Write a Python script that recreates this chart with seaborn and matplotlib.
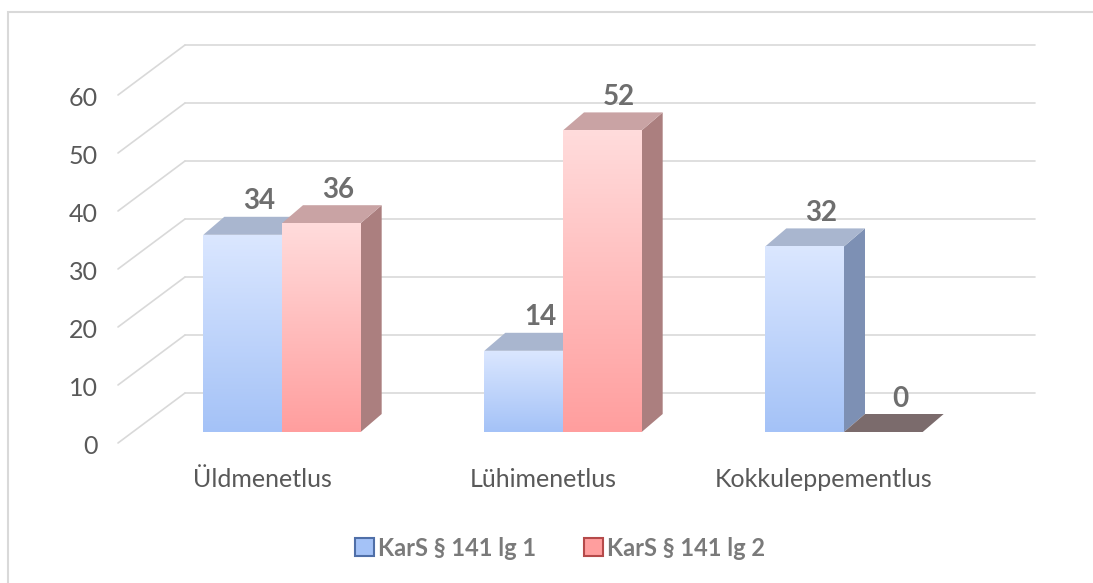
import matplotlib
matplotlib.use("Agg")
import matplotlib.pyplot as plt
from matplotlib.patches import Polygon, Patch, Rectangle
from matplotlib.transforms import ScaledTranslation
from matplotlib.colors import LinearSegmentedColormap
import numpy as np
import pandas as pd
import seaborn as sns

## donnees
categories = ["Üldmenetlus", "Lühimenetlus", "Kokkuleppementlus"]
series = ["KarS § 141 lg 1", "KarS § 141 lg 2"]
lg1 = [34, 14, 32]
lg2 = [36, 52, 0]
yticks = [0, 10, 20, 30, 40, 50, 60]

df = pd.DataFrame({
    "menetlus": categories * 2,
    "seeria": [series[0]] * 3 + [series[1]] * 3,
    "arv": lg1 + lg2,
})

# couleurs (face avant en degrade, cote, dessus)
front = {series[0]: ("#dbe7ff", "#a4c2f7"), series[1]: ("#ffdcdc", "#ff9e9e")}
side = {series[0]: "#7d90b4", series[1]: "#ab7f7f"}
top = {series[0]: "#a9b6cf", series[1]: "#c9a3a4"}
edge = {series[0]: "#4f6fa8", series[1]: "#b54a4a"}

sns.set_theme(style="white")
plt.rcParams['font.family'] = ['Lato', 'DejaVu Sans']

W, H, DPI = 1093, 583, 100
fig = plt.figure(figsize=(W / DPI, H / DPI), dpi=DPI)
# axes = plan des barres
ax_l, ax_r, ax_b, ppu = 185, 1035, 432, 5.8
ax = fig.add_axes([ax_l / W, (H - ax_b) / H, (ax_r - ax_l) / W, 60 * ppu / H])

sns.barplot(data=df, x="menetlus", y="arv", hue="seeria", hue_order=series,
            width=0.56, palette=[front[s][1] for s in series], ax=ax,
            legend=False, zorder=3)

spacing = 281.0
x0 = -(282 - ax_l) / spacing
ax.set_xlim(x0, x0 + (ax_r - ax_l) / spacing)
ax.set_ylim(0, 60)

# profondeur 3D
dx = 21 / spacing
dy = 18 / ppu

patches = list(ax.patches)
hues = [s for s in series for _ in categories]
order = np.argsort([p.get_x() for p in patches])
for rank, i in enumerate(order):
    p = patches[i]
    s = hues[i]
    x, w, h = p.get_x(), p.get_width(), p.get_height()
    z = 3 + rank * 0.1
    p.set_zorder(z + 0.05)
    p.set_edgecolor("none")
    if h > 0:
        cote = Polygon([(x + w, 0), (x + w + dx, dy), (x + w + dx, h + dy), (x + w, h)],
                       closed=True, fc=side[s], ec="none", zorder=z)
        ax.add_patch(cote)
        dessus = Polygon([(x, h), (x + w, h), (x + w + dx, h + dy), (x + dx, h + dy)],
                         closed=True, fc=top[s], ec="none", zorder=z)
        ax.add_patch(dessus)
        cmap = LinearSegmentedColormap.from_list("g", [front[s][1], front[s][0]])
        grad = np.linspace(0, 1, 256).reshape(-1, 1)
        im = ax.imshow(grad, extent=[x, x + w, 0, h], origin="lower", aspect="auto",
                       cmap=cmap, zorder=z + 0.06)
        im.set_clip_path(p)
    else:
        sol = Polygon([(x, 0), (x + w, 0), (x + w + dx, dy), (x + dx, dy)],
                      closed=True, fc="#7b6b6c", ec="none", zorder=z)
        ax.add_patch(sol)
    ax.annotate(f"{h:.0f}", (x + w / 2, h), xytext=(12, 24), textcoords="offset points",
                ha="center", va="center", fontsize=20, fontweight="bold",
                color="#6e6e6e", zorder=10)

ax.set_xlim(x0, x0 + (ax_r - ax_l) / spacing)
ax.set_ylim(0, 60)

# grille du mur du fond + diagonales du mur gauche
back, fr = 39 / ppu, 11 / ppu
yt = ax.get_yaxis_transform()
for v in yticks:
    ax.plot([0, 1], [v + back, v + back], transform=yt, color="#d9d9d9", lw=1.2,
            clip_on=False, zorder=0)
    ax.plot([-(ax_l - 118) / (ax_r - ax_l), 0], [v - fr, v + back], transform=yt,
            color="#d9d9d9", lw=1.2, clip_on=False, zorder=0)

for sp in ax.spines.values():
    sp.set_visible(False)
ax.set_yticks(yticks)
ax.set_yticklabels([str(v) for v in yticks])
ax.tick_params(axis="y", length=0, pad=63, labelsize=18, labelcolor="#595959")
ax.tick_params(axis="x", length=0, pad=26, labelsize=18, labelcolor="#595959")
for lab in ax.get_yticklabels():
    lab.set_transform(lab.get_transform() + ScaledTranslation(0, -0.12, fig.dpi_scale_trans))
for lab in ax.get_xticklabels():
    lab.set_transform(lab.get_transform() + ScaledTranslation(-0.2, 0, fig.dpi_scale_trans))
ax.set_xlabel("")
ax.set_ylabel("")
ax.grid(False)

handles = [Patch(facecolor=front[s][1], edgecolor=edge[s], lw=1.5) for s in series]
leg = fig.legend(handles, series, loc="center", bbox_to_anchor=(560 / W, 1 - 548 / H),
                 ncol=2, frameon=False, handlelength=0.8, handleheight=0.8,
                 handletextpad=0.2, columnspacing=2.0,
                 prop={"size": 17, "weight": "bold"})
for t in leg.get_texts():
    t.set_color("#7a7a7a")

# cadre du graphique
fig.patches.append(Rectangle((8 / W, -0.1), 1.2, 1 - 12 / H + 0.1, transform=fig.transFigure,
                             fill=False, ec="#d9d9d9", lw=1.5))

fig.savefig("out.png", dpi=DPI)
